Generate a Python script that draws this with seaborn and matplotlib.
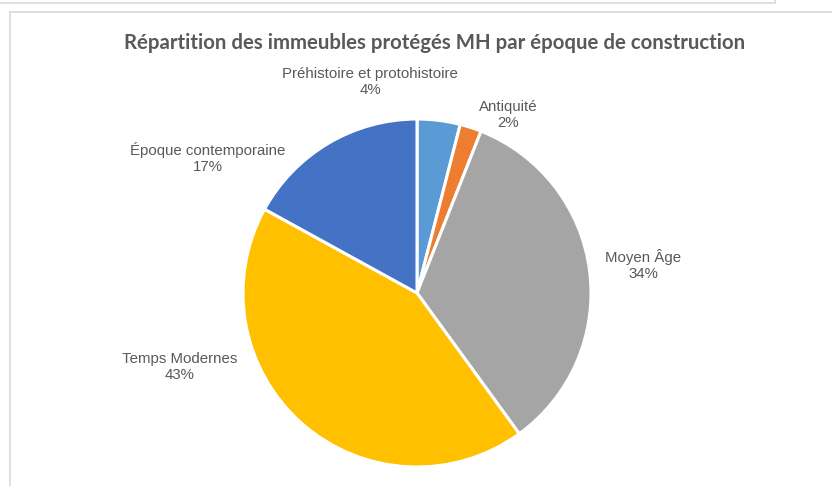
import matplotlib
matplotlib.use("Agg")
import matplotlib.pyplot as plt
from matplotlib.lines import Line2D
import seaborn as sns

# data
periods = ["Préhistoire et protohistoire", "Antiquité", "Moyen Âge",
           "Temps Modernes", "Époque contemporaine"]
shares = [4, 2, 34, 43, 17]
colors = ["#5B9BD5", "#ED7D31", "#A5A5A5", "#FFC000", "#4472C4"]
title = "Répartition des immeubles protégés MH par époque de construction"

# label centres in pixels (x, y from top)
label_pos = [(370, 82), (508, 115), (643, 265), (180, 367), (208, 158)]

W, H = 832, 486
sns.set_theme(style="white")
plt.rcParams['font.family'] = ['Liberation Sans', 'DejaVu Sans']

fig = plt.figure(figsize=(W / 100, H / 100), dpi=100)
ax = fig.add_axes([0, 0, 1, 1])

cx, cy, r = 417, 293, 174
ax.pie(shares, colors=colors, startangle=90, counterclock=False,
       center=(cx, H - cy), radius=r,
       wedgeprops=dict(edgecolor="white", linewidth=2.2))
ax.set_xlim(0, W)
ax.set_ylim(0, H)
ax.set_aspect("equal")
ax.axis("off")

for name, v, (px, py) in zip(periods, shares, label_pos):
    ax.text(px, H - py, f"{name}\n{v}%", ha="center", va="center",
            fontsize=10.8, color="#595959", linespacing=1.15)

ax.text(435, H - 43, title, ha="center", va="center", fontsize=14.7,
        color="#595959", fontweight="bold", family=["Lato", "DejaVu Sans"])

# frames seen around the chart
grey = "#D9D9D9"
fig.add_artist(Line2D([0, 775 / W], [1 - 3 / H, 1 - 3 / H], color=grey, lw=1.2))
fig.add_artist(Line2D([775 / W, 775 / W], [1, 1 - 3 / H], color=grey, lw=1.2))
fig.add_artist(Line2D([10 / W, 1], [1 - 12 / H, 1 - 12 / H], color=grey, lw=1.2))
fig.add_artist(Line2D([10 / W, 10 / W], [0, 1 - 12 / H], color=grey, lw=1.2))

fig.savefig("out.png", dpi=100)
